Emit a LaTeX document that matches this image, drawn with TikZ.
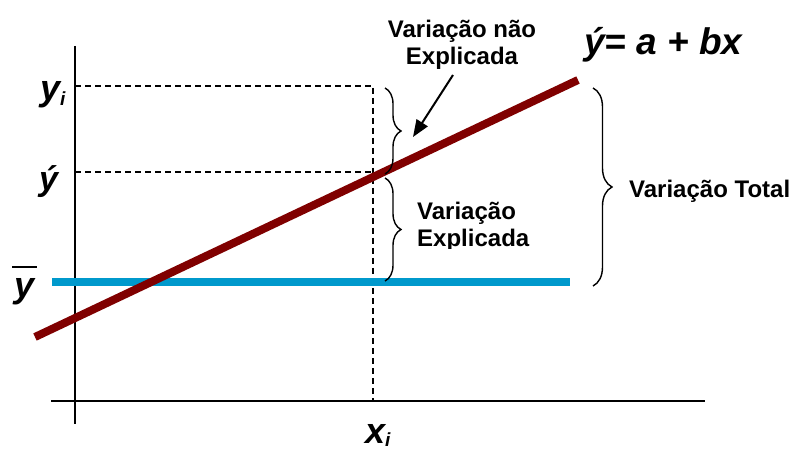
\documentclass[tikz,border=0pt]{standalone}
\usepackage{fontspec}
\setmainfont{Liberation Sans}
\usetikzlibrary{decorations.pathreplacing,arrows.meta}
\definecolor{regred}{RGB}{128,0,0}
\definecolor{meanblue}{RGB}{0,153,204}
\newcommand\mysub[2][-5pt]{\raisebox{#1}{\fontsize{19}{19}\selectfont #2}}
\begin{document}
\begin{tikzpicture}[x=1pt,y=-1pt,
  axis/.style={line width=2pt,black},
  guide/.style={line width=1.3pt,dash pattern=on 6pt off 4pt},
  bracestyle/.style={line width=1.4pt,decorate,decoration={brace,amplitude=#1}},
  lbl/.style={inner sep=0pt,font=\bfseries\fontsize{24}{27}\selectfont},
  sym/.style={inner sep=0pt,font=\bfseries\itshape\fontsize{36}{36}\selectfont},
  pointer/.style={line width=2pt,-{Triangle[length=17pt,width=13pt]}}]
\useasboundingbox (0,0) rectangle (795,449);
% axes
\coordinate (ytop) at (75,46);
\coordinate (ybot) at (75,424);
\coordinate (xl) at (51,401);
\coordinate (xr) at (705,401);
\draw[axis] (ytop) -- (ybot);
\draw[axis] (xl) -- (xr);
% guides
\coordinate (gi) at (75,86);
\coordinate (gic) at (373,86);
\coordinate (gh) at (75,172);
\coordinate (ghc) at (373,172);
\coordinate (gx) at (373,401);
\draw[guide] (gi) -- (gic) -- (gx);
\draw[guide] (gh) -- (ghc);
% mean line
\coordinate (m1) at (52,282);
\coordinate (m2) at (570,282);
\draw[meanblue,line width=8pt] (m1) -- (m2);
% regression line
\coordinate (r1) at (35,337);
\coordinate (r2) at (578,80);
\draw[regred,line width=8pt] (r1) -- (r2);
% braces
\coordinate (b1a) at (385,88);
\coordinate (b1b) at (385,174);
\coordinate (b2a) at (385,178);
\coordinate (b2b) at (385,281);
\coordinate (b3a) at (593,88);
\coordinate (b3b) at (593,286);
\draw[bracestyle=16pt] (b1a) -- (b1b);
\draw[bracestyle=16pt] (b2a) -- (b2b);
\draw[bracestyle=19pt] (b3a) -- (b3b);
% labels
\node[lbl,align=center,anchor=base] (nexp) at (462,65) {Variação não\\Explicada};
\coordinate (arrs) at (453,75);
\coordinate (arre) at (413,137);
\draw[pointer] (arrs) -- (arre);
\begin{scope}
\clip (400,190) rectangle (560,248);
\node[lbl,align=left,anchor=base west] (expl) at (417,247) {Variação\\Explicada};
\end{scope}
\node[lbl,anchor=base west] (tot) at (629,198) {Variação Total};
\node[inner sep=0pt,font=\bfseries\itshape\fontsize{37}{37}\selectfont,anchor=base west] (eq) at (584,55) {ý= a + bx};
\node[sym,anchor=base west] (lyi) at (40,101) {y\mysub{i}};
\node[inner sep=0pt,font=\bfseries\itshape\fontsize{34}{34}\selectfont,anchor=base west] (lyh) at (39,191) {ý};
\node[sym,anchor=base west] (lyb) at (14,297) {y};
\draw[line width=2pt] (12,267) -- (37,267);
\node[sym,anchor=base west] (lxi) at (365,443) {x\mysub[-3pt]{i}};
\end{tikzpicture}
\end{document}
